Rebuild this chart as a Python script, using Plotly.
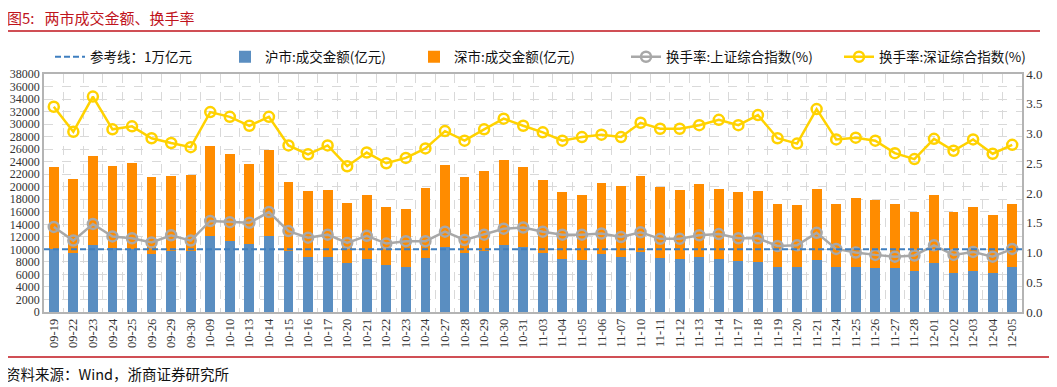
import plotly.graph_objects as go

dates = ["09-19", "09-22", "09-23", "09-24", "09-25", "09-26", "09-29", "09-30",
         "10-09", "10-10", "10-13", "10-14", "10-15", "10-16", "10-17", "10-20",
         "10-21", "10-22", "10-23", "10-24", "10-27", "10-28", "10-29", "10-30",
         "10-31", "11-03", "11-04", "11-05", "11-06", "11-07", "11-10", "11-11",
         "11-12", "11-13", "11-14", "11-17", "11-18", "11-19", "11-20", "11-21",
         "11-24", "11-25", "11-26", "11-27", "11-28", "12-01", "12-02", "12-03",
         "12-04", "12-05"]

sh_amount = [10100, 9460, 10740, 10150, 10100, 9300, 9730, 9730,
             12170, 11320, 10900, 12070, 9670, 8720, 8720, 7760,
             8400, 7440, 7180, 8560, 10420, 9410, 9670, 10740,
             10310, 9410, 8500, 8290, 9300, 8770, 9620, 8560,
             8400, 8820, 8450, 8080, 7920, 7230, 7120, 8240,
             7180, 7230, 7020, 6960, 6480, 7870, 6270, 6480,
             6270, 7180]

sz_amount = [13130, 11800, 14240, 13180, 13660, 12230, 11960, 12120,
             14410, 13870, 12700, 13760, 11060, 10570, 10680, 9620,
             10360, 9300, 9300, 11270, 13020, 12120, 12920, 13550,
             12920, 11740, 10690, 10470, 11320, 11270, 12170, 11430,
             11100, 11640, 11160, 11050, 11370, 10040, 9990, 11430,
             10090, 10950, 10840, 10210, 9410, 10890, 9680, 10260,
             9250, 10090]

sh_turnover = [1.43, 1.20, 1.48, 1.27, 1.24, 1.17, 1.29, 1.20,
               1.53, 1.51, 1.50, 1.68, 1.36, 1.25, 1.30, 1.16,
               1.28, 1.15, 1.19, 1.19, 1.35, 1.21, 1.30, 1.40,
               1.42, 1.35, 1.30, 1.30, 1.32, 1.26, 1.34, 1.23,
               1.23, 1.29, 1.31, 1.24, 1.24, 1.11, 1.12, 1.33,
               1.06, 1.00, 0.96, 0.93, 0.95, 1.12, 0.96, 1.01,
               0.93, 1.06]

sz_turnover = [3.45, 3.03, 3.62, 3.07, 3.12, 2.92, 2.84, 2.77,
               3.36, 3.28, 3.13, 3.28, 2.80, 2.65, 2.80, 2.45,
               2.68, 2.50, 2.59, 2.75, 3.04, 2.88, 3.07, 3.25,
               3.13, 3.02, 2.88, 2.94, 2.98, 2.94, 3.18, 3.08,
               3.08, 3.14, 3.23, 3.14, 3.31, 2.92, 2.83, 3.41,
               2.90, 2.93, 2.88, 2.67, 2.57, 2.91, 2.71, 2.90,
               2.66, 2.81]

ref_line = 10000

name_ref = "参考线：1万亿元"
name_sh = "沪市:成交金额(亿元)"
name_sz = "深市:成交金额(亿元)"
name_sh_t = "换手率:上证综合指数(%)"
name_sz_t = "换手率:深证综合指数(%)"

c_blue = "#5a8ec1"
c_orange = "#ff8c00"
c_gray = "#a8a8a8"
c_yellow = "#ffd200"
c_ref = "#3f7fc0"
c_red = "#c0141c"

serif = "Liberation Serif, Noto Sans CJK SC"
cjk = "Noto Sans CJK SC, Liberation Serif"

fig = go.Figure()

fig.add_trace(go.Bar(x=dates, y=sh_amount, name=name_sh, marker=dict(color=c_blue, line=dict(width=0)),
                     legend="legend2"))
fig.add_trace(go.Bar(x=dates, y=sz_amount, name=name_sz, marker=dict(color=c_orange, line=dict(width=0)),
                     legend="legend3"))
fig.add_trace(go.Scatter(x=dates, y=sh_turnover, name=name_sh_t, yaxis="y2", mode="lines+markers",
                         line=dict(color=c_gray, width=2.5),
                         marker=dict(symbol="circle-open", size=10, color=c_gray, line=dict(width=2.5)),
                         legend="legend4"))
fig.add_trace(go.Scatter(x=dates, y=sz_turnover, name=name_sz_t, yaxis="y2", mode="lines+markers",
                         line=dict(color=c_yellow, width=2.5),
                         marker=dict(symbol="circle-open", size=10, color=c_yellow, line=dict(width=2.5)),
                         legend="legend5"))

fig.add_shape(type="line", xref="x domain", yref="y", x0=0, x1=1, y0=ref_line, y1=ref_line,
              line=dict(color=c_ref, width=2, dash="6px,3px"), layer="above",
              showlegend=True, name=name_ref, legend="legend")

# The page places the figure 8px from the top-left corner (default body margin);
# all target positions below are page pixels, converted to figure pixels.
OFF = 8
W, H = 1057 - OFF, 387 - OFF
L, T = 44 - OFF, 74 - OFF
R = W - (1022 - OFF)
B = H - (312 - OFF)
pw = W - L - R
ph = H - T - B


def px_x(p):
    return (p - OFF - L) / pw


def px_y(p):
    return (H - B - (p - OFF)) / ph


def cx(p):
    return (p - OFF) / W


def cy(p):
    return 1 - (p - OFF) / H


# red rules
fig.add_shape(type="line", xref="paper", yref="paper", x0=px_x(3), x1=px_x(1040), y0=px_y(31), y1=px_y(31),
              line=dict(color=c_red, width=1.5))
fig.add_shape(type="line", xref="paper", yref="paper", x0=px_x(5), x1=px_x(1050), y0=px_y(357), y1=px_y(357),
              line=dict(color=c_red, width=1.5))

fig.add_annotation(text="图5:   两市成交金额、换手率", xref="paper", yref="paper", x=px_x(6), y=px_y(18),
                   xanchor="left", yanchor="middle", showarrow=False, borderpad=0,
                   font=dict(family=cjk, size=15, color=c_red))
fig.add_annotation(text="资料来源：Wind，浙商证券研究所", xref="paper", yref="paper", x=px_x(5), y=px_y(373),
                   xanchor="left", yanchor="middle", showarrow=False, borderpad=0,
                   font=dict(family=cjk, size=14.5, color="#111111"))

leg_font = dict(family=cjk, size=13.5, color="#111111")
leg_common = dict(orientation="h", xref="container", yref="container", y=cy(57), yanchor="middle",
                  xanchor="left", font=leg_font, bgcolor="rgba(0,0,0,0)", itemwidth=30)

axis_col = "#b4b4b4"
grid_col = "#d9d9d9"
xtick_font = dict(family=serif, size=12.5, color="#333333")
ytick_font = dict(family=serif, size=12, color="#333333")

fig.update_layout(
    width=W, height=H,
    margin=dict(l=L, r=R, t=T, b=B, autoexpand=False),
    paper_bgcolor="white", plot_bgcolor="white",
    barmode="stack", bargap=0.5,
    showlegend=True,
    legend=dict(x=cx(50), **leg_common),
    legend2=dict(x=cx(225), **leg_common),
    legend3=dict(x=cx(414), **leg_common),
    legend4=dict(x=cx(626), **leg_common),
    legend5=dict(x=cx(839), **leg_common),
    xaxis=dict(type="category", range=[-0.5, len(dates) - 0.5], autorange=False,
               tickangle=-90, tickfont=xtick_font, tickson="boundaries",
               showgrid=True, gridcolor=grid_col, griddash="dash", gridwidth=1,
               showline=True, linecolor=axis_col, linewidth=1.5, mirror=True,
               ticks="", automargin=False),
    yaxis=dict(range=[0, 38000], dtick=2000, tickfont=ytick_font, tickformat="d",
               showgrid=True, gridcolor=grid_col, griddash="dash", gridwidth=1,
               showline=True, linecolor=axis_col, linewidth=1.5,
               ticks="", zeroline=False, automargin=False),
    yaxis2=dict(range=[0, 4], dtick=0.5, tickformat=".1f", tickfont=dict(family=serif, size=13, color="#333333"),
                overlaying="y", side="right",
                showgrid=False, showline=True, linecolor=axis_col, linewidth=1.5,
                ticks="", zeroline=False, automargin=False),
)

fig.write_html("out.html")
